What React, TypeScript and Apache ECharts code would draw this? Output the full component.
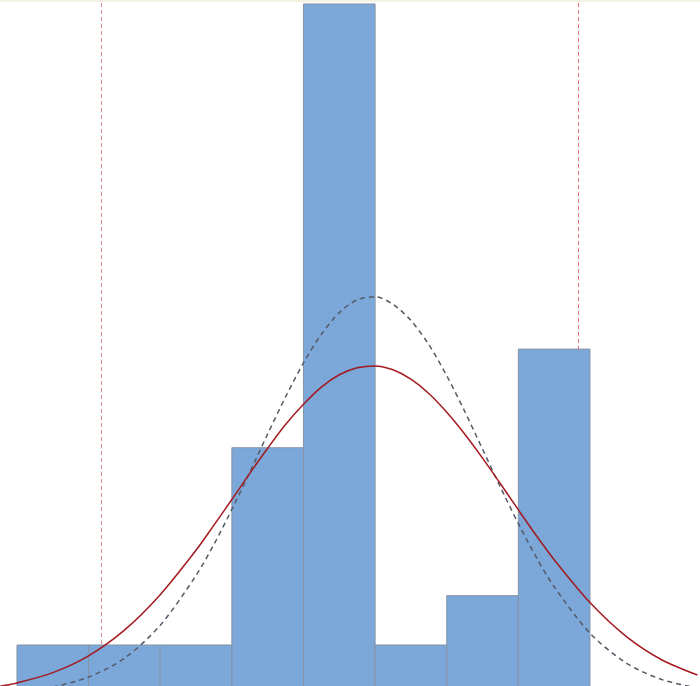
import { useEffect, useRef } from 'react';
import * as echarts from 'echarts';

// histogram bins (edges in bin units) and counts
const binEdges = [0, 1, 2, 3, 4, 5, 6, 7, 8];
const binCounts = [1, 1, 1, 5, 14, 1, 2, 7];

// spec limits
const lowerSpec = 1.17;
const upperSpec = 7.83;

// fitted curves: x positions, overall (dashed) and within (red)
const curveX = [-0.25, 0, 0.5, 1, 1.5, 2, 2.5, 2.75, 3, 3.25, 3.5, 3.75, 4, 4.25, 4.5, 4.75, 5, 5.25, 5.5, 5.75, 6, 6.25, 6.5, 6.75, 7, 7.25, 7.5, 8, 8.5, 9, 9.5];
const overallFit = [0.04, 0.06, 0.15, 0.35, 0.73, 1.4, 2.41, 3.04, 3.75, 4.5, 5.28, 6.03, 6.72, 7.3, 7.74, 8.0, 8.06, 7.91, 7.58, 7.09, 6.46, 5.74, 4.97, 4.2, 3.46, 2.78, 2.18, 1.24, 0.64, 0.3, 0.13];
const withinFit = [0.16, 0.23, 0.44, 0.78, 1.3, 2.02, 2.92, 3.43, 3.95, 4.48, 4.99, 5.47, 5.88, 6.23, 6.48, 6.62, 6.66, 6.58, 6.39, 6.1, 5.72, 5.28, 4.79, 4.27, 3.74, 3.22, 2.73, 1.86, 1.18, 0.7, 0.39];

export default function App() {
  const chartRef = useRef<HTMLDivElement>(null);

  useEffect(() => {
    if (!chartRef.current) return;
    const chart = echarts.init(chartRef.current, null, { renderer: 'svg' });

    const bins = binCounts.map((c, i) => [binEdges[i], binEdges[i + 1], c]);

    chart.setOption({
      animation: false,
      backgroundColor: '#ffffff',
      grid: { left: 0, right: 0, top: 0, bottom: 0 },
      xAxis: {
        type: 'value',
        min: -0.237,
        max: 9.536,
        show: false
      },
      yAxis: {
        type: 'value',
        min: 0.168,
        max: 14.08,
        show: false
      },
      graphic: [
        {
          type: 'rect',
          left: 0,
          top: 0,
          shape: { width: 700, height: 2 },
          style: { fill: '#f5f1e3' },
          z: 100
        }
      ],
      series: [
        {
          type: 'line',
          data: [],
          z: 1,
          markLine: {
            silent: true,
            z: 1,
            symbol: 'none',
            label: { show: false },
            data: [
              { xAxis: lowerSpec, lineStyle: { color: '#d99090', width: 1, type: [4, 3] } },
              { xAxis: upperSpec, lineStyle: { color: '#f06a6a', width: 1, type: [4, 3] } }
            ]
          }
        },
        {
          type: 'custom',
          z: 2,
          data: bins,
          encode: { x: [0, 1], y: 2 },
          renderItem: (params: any, api: any) => {
            const p0 = api.coord([api.value(0), api.value(2)]);
            const p1 = api.coord([api.value(1), 0]);
            return {
              type: 'rect',
              shape: { x: p0[0], y: p0[1], width: p1[0] - p0[0], height: p1[1] - p0[1] },
              style: { fill: '#7ba7d9', stroke: '#8793a8', lineWidth: 1 }
            };
          }
        },
        {
          type: 'line',
          z: 3,
          data: curveX.map((x, i) => [x, overallFit[i]]),
          smooth: 0.3,
          showSymbol: false,
          lineStyle: { color: '#555a66', width: 1.5, type: [5, 4] }
        },
        {
          type: 'line',
          z: 4,
          data: curveX.map((x, i) => [x, withinFit[i]]),
          smooth: 0.3,
          showSymbol: false,
          lineStyle: { color: '#a31a1f', width: 1.5 }
        }
      ]
    });

    return () => {
      chart.dispose();
    };
  }, []);

  return (
    <div
      ref={chartRef}
      style={{ position: 'fixed', left: 0, top: 0, width: 700, height: 686 }}
    />
  );
}
